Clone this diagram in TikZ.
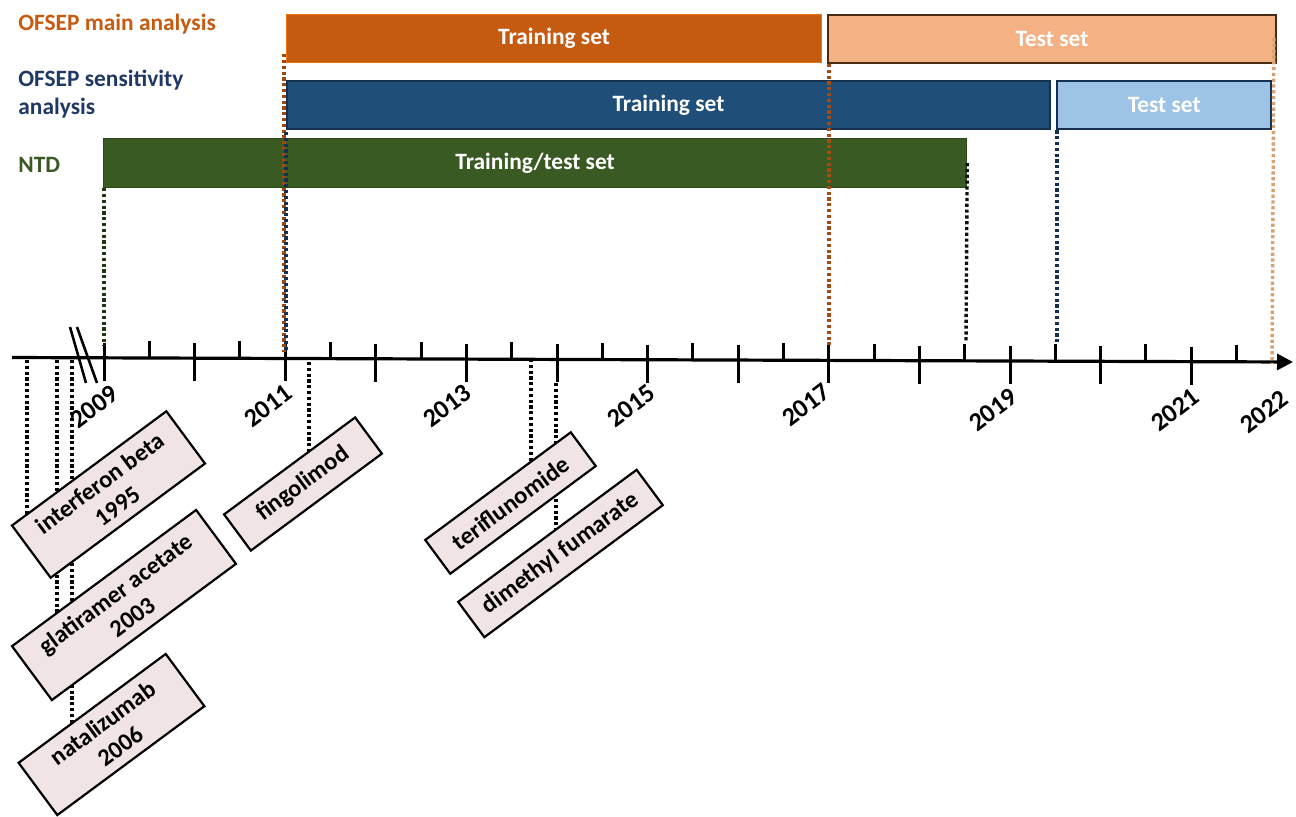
\documentclass[tikz,border=0pt]{standalone}
\usepackage{fontspec}
\setmainfont{Carlito}
\usetikzlibrary{arrows.meta,calc}
\definecolor{orD}{HTML}{C55A11}
\definecolor{orL}{HTML}{F4B183}
\definecolor{orB}{HTML}{4A2A10}
\definecolor{orT}{HTML}{D9A070}
\definecolor{blD}{HTML}{1F4E79}
\definecolor{blL}{HTML}{9DC3E6}
\definecolor{blB}{HTML}{16304F}
\definecolor{grD}{HTML}{3A5A24}
\definecolor{grB}{HTML}{2C4519}
\definecolor{navyT}{HTML}{1F3864}
\definecolor{pinkbox}{HTML}{F0E4E4}
\pgfdeclarelayer{bg}
\pgfsetlayers{bg,main}
\tikzset{
  basefont/.style={font=\bfseries\fontsize{11.7}{14}\selectfont},
  bar/.style={basefont, rectangle, anchor=north west, inner sep=0pt, minimum height=24pt, text=white},
  grouplabel/.style={basefont, anchor=west, align=left, inner sep=0pt},
  yearlabel/.style={font=\bfseries\fontsize{13}{15}\selectfont, rotate=37, inner sep=0pt},
  drugbox/.style={font=\bfseries\fontsize{12.2}{14.5}\selectfont, rectangle, draw=black, line width=1.1pt, fill=pinkbox, rotate=36.5, align=center, inner sep=0pt},
  dotline/.style={line width=1.7pt, dash pattern=on 1.6pt off 1.3pt},
  tickline/.style={line width=1.5pt},
}
\begin{document}
\begin{tikzpicture}[x=0.5pt,y=-0.5pt]
\useasboundingbox (0,0) rectangle (1296,816);

% group labels
\node[grouplabel, text=orD] (lmain) at (18,24) {OFSEP main analysis};
\node[grouplabel, text=navyT] (lsens) at (18,94) {OFSEP sensitivity\\analysis};
\node[grouplabel, text=grD] (lntd) at (18,165) {NTD};

% bars
\node[bar, fill=orD, draw=orange!70!orD, line width=0.6pt, minimum width=267.5pt] (omTrain) at (286,14) {Training set};
\node[bar, fill=orL, draw=orB, line width=1pt, minimum width=224pt] (omTest) at (827,14) {Test set};
\node[bar, fill=blD, draw=blB, line width=1pt, minimum width=381.5pt] (seTrain) at (286,80) {Training set};
\node[bar, fill=blL, draw=blB, line width=1.2pt, minimum width=107pt] (seTest) at (1056,80) {Test set};
\node[bar, fill=grD, draw=grB, line width=0.6pt, minimum width=431.5pt, minimum height=24.5pt] (ntd) at (103,138) {Training/test set};

% axis
\coordinate (axL) at (12,357.5);
\coordinate (axR) at (1293,362);
\draw[line width=1.6pt, -{Triangle[length=8pt,width=8pt]}] (axL) -- (axR);
\foreach \i in {0,...,12} {
  \pgfmathsetmacro\xx{104+90.6*\i}
  \pgfmathsetmacro\yy{357.5+(\xx-12)*0.00351}
  \draw[tickline] (\xx,\yy-15) -- (\xx,\yy+23);
  \pgfmathsetmacro\xh{\xx+45.3}
  \pgfmathsetmacro\yh{357.5+(\xh-12)*0.00351}
  \draw[tickline] (\xh,\yh-17) -- (\xh,\yh);
}
% axis break
\coordinate (brA1) at (70,327); \coordinate (brA2) at (86,383);
\coordinate (brB1) at (77,327); \coordinate (brB2) at (97,383);
\draw[line width=1.3pt] (brA1) -- (brA2);
\draw[line width=1.3pt] (brB1) -- (brB2);

% year labels
\node[yearlabel] (y2009) at (94,407) {2009};
\node[yearlabel] (y2011) at (268,406) {2011};
\node[yearlabel] (y2013) at (447,406) {2013};
\node[yearlabel] (y2015) at (631,406) {2015};
\node[yearlabel] (y2017) at (806,405) {2017};
\node[yearlabel] (y2019) at (993,410) {2019};
\node[yearlabel] (y2021) at (1175,410) {2021};
\node[yearlabel] (y2022) at (1264,412) {2022};

% dotted lines from bars to axis
\coordinate (a09) at (104,345);
\coordinate (a11o) at (284,352);
\coordinate (a11b) at (286,350);
\coordinate (a17) at (829,345);
\coordinate (a185) at (966,341);
\coordinate (a195) at (1057,342);
\coordinate (a22) at (1272,364);
\draw[dotline, color=grB!80!black] (a09 |- ntd.south) -- (a09);
\draw[dotline, color=orD!80!black] ([xshift=-1pt,yshift=4.5pt]omTrain.south west) -- (a11o);
\draw[dotline, color=blB] ([yshift=-1pt]seTrain.south west) -- (a11b);
\draw[dotline, color=orD!85!black] ([xshift=1pt]omTest.south west) -- (a17);
\draw[dotline, color=black!80!grD] (ntd.east) -- (a185);
\draw[dotline, color=blB] ([xshift=0.5pt]seTest.south west) -- (a195);
\draw[dotline, color=orT] ([xshift=-1.5pt,yshift=-12pt]omTest.north east) -- (a22);

% drug boxes
\node[drugbox, minimum width=96pt, minimum height=32.5pt] (ifn) at (108.5,494.5) {interferon beta\\1995};
\node[drugbox, minimum width=114.5pt, minimum height=33.5pt] (gla) at (124,605) {glatiramer acetate\\2003};
\node[drugbox, minimum width=91.5pt, minimum height=32.5pt] (nat) at (111.5,734.5) {natalizumab\\2006};
\node[drugbox, minimum width=81.5pt, minimum height=22.5pt] (fin) at (303,484) {fingolimod};
\node[drugbox, minimum width=111pt, minimum height=22pt] (dmf) at (560.5,553.5) {dimethyl fumarate};
\node[drugbox, minimum width=90.5pt, minimum height=21pt] (ter) at (510.5,503) {teriflunomide};

% dotted lines from axis to drug boxes (behind the boxes)
\coordinate (ifnA) at (27,360); \coordinate (ifnE) at (27,530);
\coordinate (glaA) at (57,360); \coordinate (glaE) at (57,625);
\coordinate (natA) at (72,360); \coordinate (natE) at (72,735);
\coordinate (finA) at (309,362); \coordinate (finE) at (309,460);
\coordinate (terA) at (531,359); \coordinate (terE) at (531,475);
\coordinate (dmfA) at (556,383); \coordinate (dmfE) at (556,545);
\begin{pgfonlayer}{bg}
\draw[dotline] (ifnA) -- (ifnE);
\draw[dotline] (glaA) -- (glaE);
\draw[dotline] (natA) -- (natE);
\draw[dotline] (finA) -- (finE);
\draw[dotline] (terA) -- (terE);
\draw[dotline] (dmfA) -- (dmfE);
\end{pgfonlayer}
\end{tikzpicture}
\end{document}
